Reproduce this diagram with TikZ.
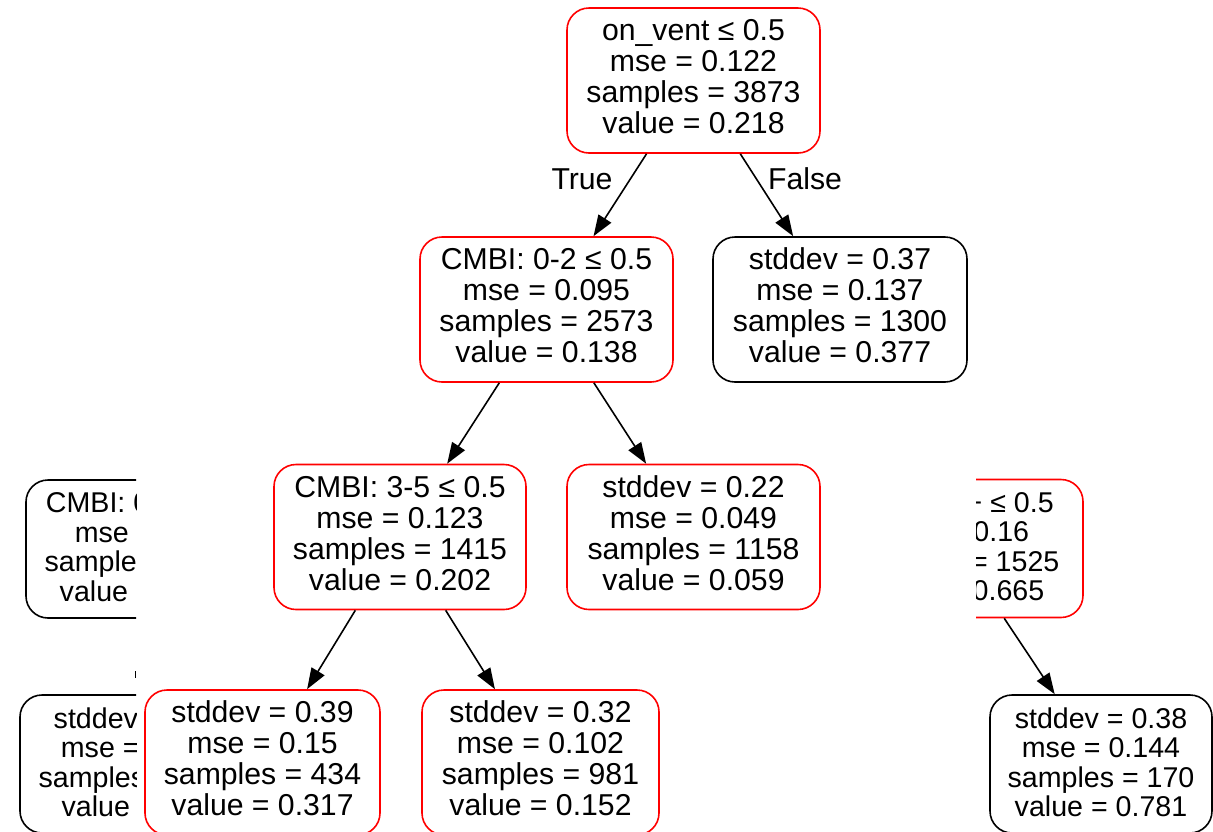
\documentclass[tikz,border=0pt]{standalone}
\usepackage{fontspec}
\setmainfont{Liberation Sans}
\usetikzlibrary{arrows.meta}
\definecolor{split}{HTML}{FF0000}

\begin{document}
\begin{tikzpicture}[x=1pt,y=-1pt,
 leaf/.style={draw=black,fill=white,rounded corners=22pt,line width=1.6pt,align=center,inner sep=0pt,font=\fontsize{30.2}{31}\selectfont,minimum height=145pt,text depth=8pt},
 branch/.style={leaf,draw=split},
 small/.style={font=\fontsize{28.6}{29.5}\selectfont,minimum height=138pt,text depth=4pt},
 edge/.style={-{Triangle[length=21pt,width=15pt]},line width=1.6pt},
 tag/.style={font=\fontsize{30.2}{31}\selectfont,inner sep=0pt}]
 \useasboundingbox (0,0) rectangle (1213,831);
 \begin{scope}
  \clip (0,0) rectangle (136,831);
  \node[leaf,small,minimum width=240pt] (cmbiL) at (146,549) {CMBI: 0\phantom{-2 ≤ 0.5}\\mse\phantom{ = 0.14}\\sample\phantom{s = 1234}\\value\phantom{ = 0.512}};
  \node[leaf,small,minimum width=240pt] (leafL) at (140,764) {stddev\phantom{ = 0.41}\\mse =\phantom{ 0.168}\\samples\phantom{ = 1090}\\value\phantom{ = 0.57}};
  \coordinate (stubA) at (135.5,671); \coordinate (stubB) at (135.5,678);
  \draw[line width=1.2pt] (stubA) -- (stubB);
 \end{scope}
 \begin{scope}
  \clip (976,0) rectangle (1213,831);
  \node[branch,small,minimum width=250pt] (cmbiR) at (958,548.5) {\phantom{CMBI: 6}+ ≤ 0.5\\\phantom{mse = }0.16\\\phantom{samples }= 1525\\\phantom{value = }0.665};
 \end{scope}
 \node[leaf,small,minimum width=222pt] (leafR) at (1101,764) {stddev = 0.38\\mse = 0.144\\samples = 170\\value = 0.781};
 \draw[edge] (cmbiR) -- (leafR);
 \node[branch,minimum width=253pt] (root) at (693.5,80.5) {on\_vent ≤ 0.5\\mse = 0.122\\samples = 3873\\value = 0.218};
 \node[branch,minimum width=253pt] (cmbiA) at (546.5,309.5) {CMBI: 0-2 ≤ 0.5\\mse = 0.095\\samples = 2573\\value = 0.138};
 \node[leaf,minimum width=254pt] (leafA) at (840,309.5) {stddev = 0.37\\mse = 0.137\\samples = 1300\\value = 0.377};
 \node[branch,minimum width=252pt] (cmbiB) at (400,537) {CMBI: 3-5 ≤ 0.5\\mse = 0.123\\samples = 1415\\value = 0.202};
 \node[branch,minimum width=253pt] (leafB) at (693.5,537) {stddev = 0.22\\mse = 0.049\\samples = 1158\\value = 0.059};
 \node[branch,minimum width=235pt] (leafC) at (262.5,762.5) {stddev = 0.39\\mse = 0.15\\samples = 434\\value = 0.317};
 \node[branch,minimum width=237pt] (leafD) at (540.5,762.5) {stddev = 0.32\\mse = 0.102\\samples = 981\\value = 0.152};
 \draw[edge] (root) -- (cmbiA);
 \draw[edge] (root) -- (leafA);
 \draw[edge] (cmbiA) -- (cmbiB);
 \draw[edge] (cmbiA) -- (leafB);
 \draw[edge] (cmbiB) -- (leafC);
 \draw[edge] (cmbiB) -- (leafD);
 \node[tag] (yes) at (582,179) {True};
 \node[tag] (no) at (805,179) {False};
\end{tikzpicture}
\end{document}
